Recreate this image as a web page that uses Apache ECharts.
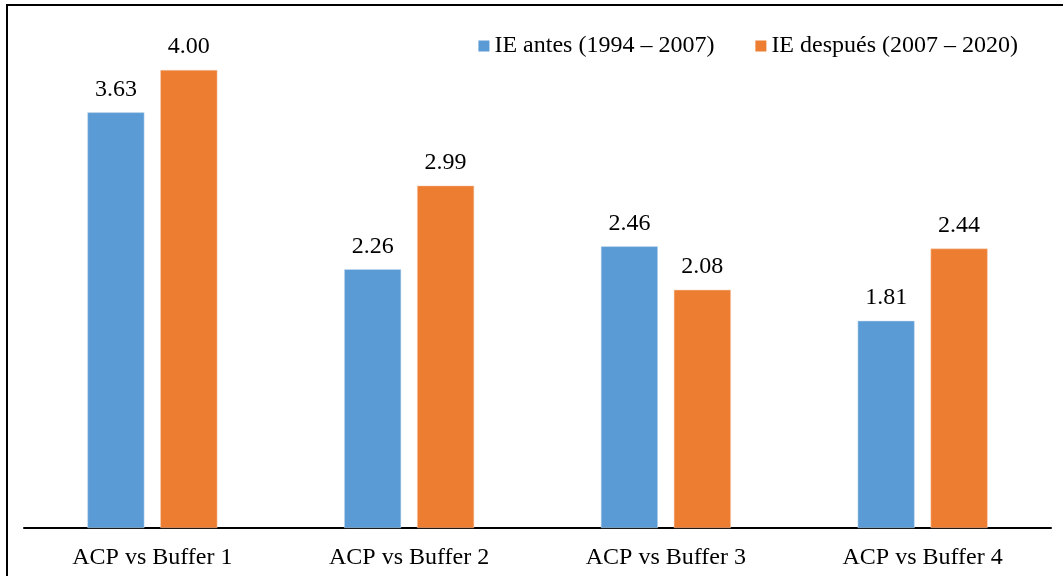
<!DOCTYPE html>
<html>
<head>
<meta charset="utf-8">
<script src="https://cdn.jsdelivr.net/npm/echarts@6/dist/echarts.min.js"></script>
<style>
  html, body { margin: 0; padding: 0; background: #fff; }
  #chart { width: 1063px; height: 576px; }
</style>
</head>
<body>
<div id="chart"></div>
<script>
  const categories = ['ACP vs Buffer 1', 'ACP vs Buffer 2', 'ACP vs Buffer 3', 'ACP vs Buffer 4']
  const seriesNames = ['IE antes (1994 – 2007)', 'IE después (2007 – 2020)']
  const antes = [3.63, 2.26, 2.46, 1.81]
  const despues = [4.00, 2.99, 2.08, 2.44]

  const font = '"Liberation Serif", "Times New Roman", serif'
  const chart = echarts.init(document.getElementById('chart'))

  const labelStyle = {
    show: true,
    position: 'top',
    distance: 11,
    color: '#000',
    fontSize: 24,
    fontFamily: font,
    formatter: p => p.value.toFixed(2)
  }

  chart.setOption({
    animation: false,
    graphic: [{
      type: 'rect',
      shape: { x: 7, y: 5, width: 1100, height: 700 },
      style: { fill: 'none', stroke: '#000', lineWidth: 2 },
      silent: true
    }],
    legend: {
      top: 29,
      right: 40,
      itemWidth: 11,
      itemHeight: 11,
      itemGap: 41,
      icon: 'rect',
      itemStyle: { borderWidth: 0 },
      textStyle: { color: '#000', fontSize: 24, fontFamily: font },
      data: seriesNames
    },
    grid: {
      left: 24,
      right: 12,
      top: 70,
      bottom: 48,
      containLabel: false
    },
    xAxis: {
      type: 'category',
      data: categories,
      axisTick: { show: false },
      axisLine: { lineStyle: { color: '#000', width: 2 } },
      axisLabel: { color: '#000', fontSize: 24, fontFamily: font, margin: 18 }
    },
    yAxis: {
      type: 'value',
      min: 0,
      max: 4,
      show: false,
      splitLine: { show: false }
    },
    series: [{
      name: seriesNames[0],
      type: 'bar',
      data: antes,
      barWidth: 57,
      barGap: '28%',
      itemStyle: { color: '#5B9BD5', borderColor: '#cfe0f2', borderWidth: 0.5 },
      label: labelStyle
    }, {
      name: seriesNames[1],
      type: 'bar',
      data: despues,
      barWidth: 57,
      itemStyle: { color: '#ED7D31', borderColor: '#f7cbb0', borderWidth: 0.5 },
      label: labelStyle
    }]
  })
</script>
</body>
</html>
